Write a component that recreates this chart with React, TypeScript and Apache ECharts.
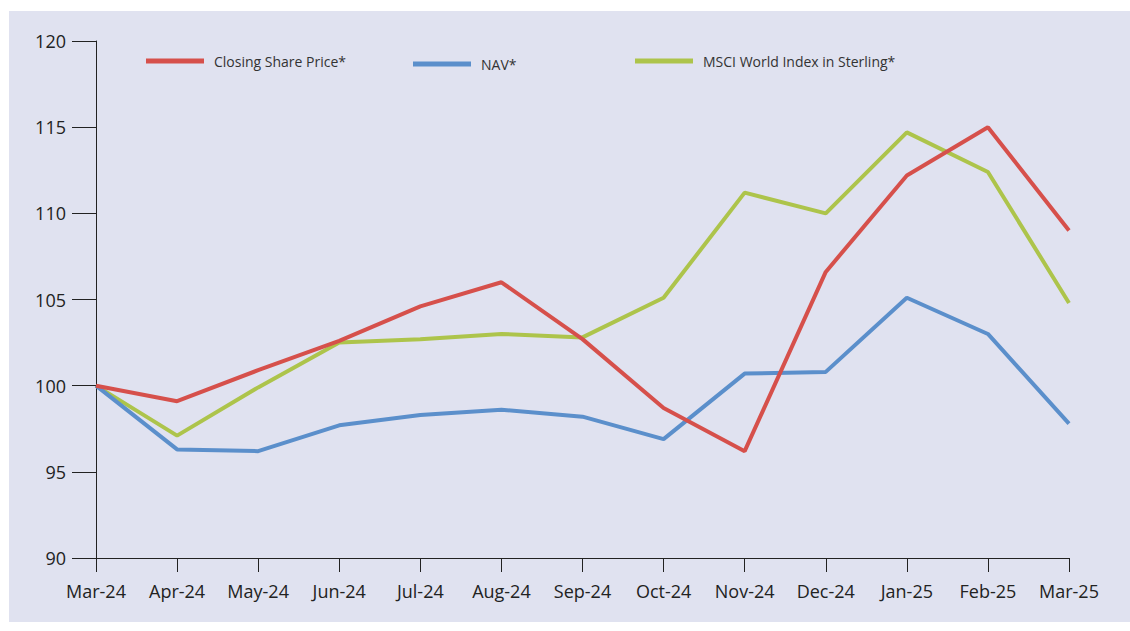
import React, { useEffect, useRef } from "react";
import * as echarts from "echarts";

const months = ["Mar-24", "Apr-24", "May-24", "Jun-24", "Jul-24", "Aug-24", "Sep-24", "Oct-24", "Nov-24", "Dec-24", "Jan-25", "Feb-25", "Mar-25"];
const closingSharePrice = [100, 99.1, 100.9, 102.6, 104.6, 106.0, 102.7, 98.7, 96.2, 106.6, 112.2, 115.0, 109.0];
const nav = [100, 96.3, 96.2, 97.7, 98.3, 98.6, 98.2, 96.9, 100.7, 100.8, 105.1, 103.0, 97.8];
const msciWorld = [100, 97.1, 99.9, 102.5, 102.7, 103.0, 102.8, 105.1, 111.2, 110.0, 114.7, 112.4, 104.8];

const RED = "#d6504b";
const BLUE = "#5b8fcb";
const GREEN = "#adc44b";
const BG = "#e0e2f0";
const FONT = "Open Sans";

export default function App() {
  const ref = useRef<HTMLDivElement>(null);
  useEffect(() => {
    if (!ref.current) return;
    const chart = echarts.init(ref.current, undefined, { renderer: "svg" });
    const legendBase = (name: string, left: number, top: number, color: string) => ({
      left,
      top,
      orient: "horizontal",
      data: [{ name, icon: "rect", itemStyle: { color } }],
      itemWidth: 58,
      itemHeight: 5,
      textStyle: { fontFamily: FONT, fontSize: 14, color: "#333", padding: [0, 0, 0, 5] },
      selectedMode: false,
    });
    chart.setOption({
      animation: false,
      backgroundColor: "#ffffff",
      graphic: [
        { type: "rect", z: -10, silent: true, shape: { x: 9, y: 11, width: 1121, height: 611 }, style: { fill: BG } },
      ],
      legend: [
        legendBase("Closing Share Price*", 141, 49, RED),
        legendBase("NAV*", 408, 52, BLUE),
        legendBase("MSCI World Index in Sterling*", 630, 49, GREEN),
      ],
      grid: { left: 96, right: 61, top: 41, bottom: 73, containLabel: false },
      xAxis: {
        type: "category",
        data: months,
        boundaryGap: false,
        axisLine: { lineStyle: { color: "#222", width: 1 } },
        axisTick: { show: true, length: 14, lineStyle: { color: "#222" }, alignWithLabel: true },
        axisLabel: { fontFamily: FONT, fontSize: 18, color: "#222", margin: 24, interval: 0 },
      },
      yAxis: {
        type: "value",
        min: 90,
        max: 120,
        interval: 5,
        axisLine: { show: true, lineStyle: { color: "#222", width: 1 } },
        axisTick: { show: true, length: 24, lineStyle: { color: "#222" } },
        axisLabel: { fontFamily: FONT, fontSize: 18, color: "#222", margin: 30 },
        splitLine: { show: false },
      },
      series: [
        { name: "Closing Share Price*", type: "line", data: closingSharePrice, symbol: "none", lineStyle: { color: RED, width: 4 }, itemStyle: { color: RED }, z: 4 },
        { name: "NAV*", type: "line", data: nav, symbol: "none", lineStyle: { color: BLUE, width: 4 }, itemStyle: { color: BLUE }, z: 3 },
        { name: "MSCI World Index in Sterling*", type: "line", data: msciWorld, symbol: "none", lineStyle: { color: GREEN, width: 4 }, itemStyle: { color: GREEN }, z: 2 },
      ],
    });
    return () => chart.dispose();
  }, []);
  return <div ref={ref} style={{ position: "fixed", left: 0, top: 0, width: 1130, height: 631 }} />;
}
